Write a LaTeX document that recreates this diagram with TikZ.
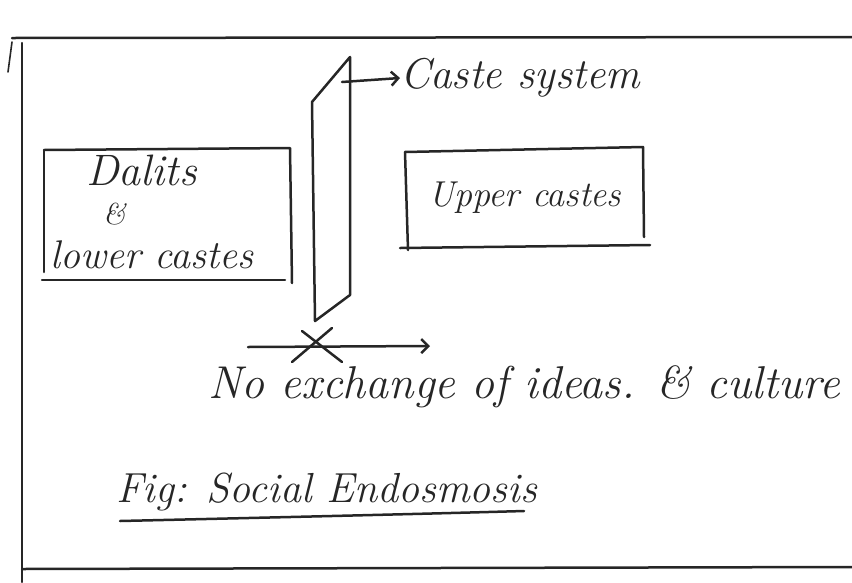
\documentclass[tikz,border=0pt]{standalone}
\usetikzlibrary{arrows.meta}
\begin{document}
\begin{tikzpicture}[x=1pt,y=-1pt,
  ink/.style={line width=2.5pt,line cap=round,line join=round,black!85},
  hand/.style={font=\itshape,inner sep=0pt,anchor=base west,black!85},
  barb/.style={-{Straight Barb[length=7pt,width=14pt]}}]
\useasboundingbox (0,0) rectangle (852,582);
% outer frame
\draw[ink] (12,38) -- (852,37);
\draw[ink] (22,43) -- (22,582);
\draw[ink] (22,569) -- (852,567);
\draw[ink,line width=1.6pt] (12,42) -- (8,72);
% left box
\draw[ink] (44,150) -- (290,148) -- (292,283);
\draw[ink] (44,150) -- (44,272);
\draw[ink] (42,280) -- (285,280);
\node[hand,font=\itshape\fontsize{44}{44}\selectfont] (dalits) at (86,185) {Dalits};
\node[hand,font=\itshape\fontsize{30}{30}\selectfont] (amp) at (103,224) {\&};
\node[hand,font=\itshape\fontsize{40}{40}\selectfont] (lower) at (50,268) {lower castes};
% wall
\coordinate (w1) at (312,102);
\coordinate (w2) at (350,57);
\coordinate (w3) at (350,295);
\coordinate (w4) at (315,321);
\draw[ink] (w1) -- (w2) -- (w3) -- (w4) -- cycle;
% caste system label
\coordinate (cs) at (342,82);
\node[hand,font=\itshape\fontsize{43}{43}\selectfont] (caste) at (400,88) {Caste system};
\draw[ink,barb] (cs) -- (caste.base west |- 0,78) ;
% right box
\draw[ink] (405,152) -- (643,147) -- (644,237);
\draw[ink] (405,152) -- (408,250);
\draw[ink] (400,248) -- (650,245);
\node[hand,font=\itshape\fontsize{36}{36}\selectfont] (upper) at (428,206) {Upper castes};
% no exchange arrow
\coordinate (ea) at (248,347);
\coordinate (eb) at (430,346);
\draw[ink,barb] (ea) -- (eb);
\draw[ink] (292,362) -- (332,328);
\draw[ink] (302,331) -- (342,362);
\node[hand,font=\itshape\fontsize{46}{46}\selectfont] (noex) at (208,398) {No exchange of ideas. \& culture};
% caption
\node[hand,font=\itshape\fontsize{42}{42}\selectfont] (fig) at (116,502) {Fig: Social Endosmosis};
\draw[ink] (120,521) .. controls (250,518) and (420,514) .. (524,511);
\end{tikzpicture}
\end{document}
